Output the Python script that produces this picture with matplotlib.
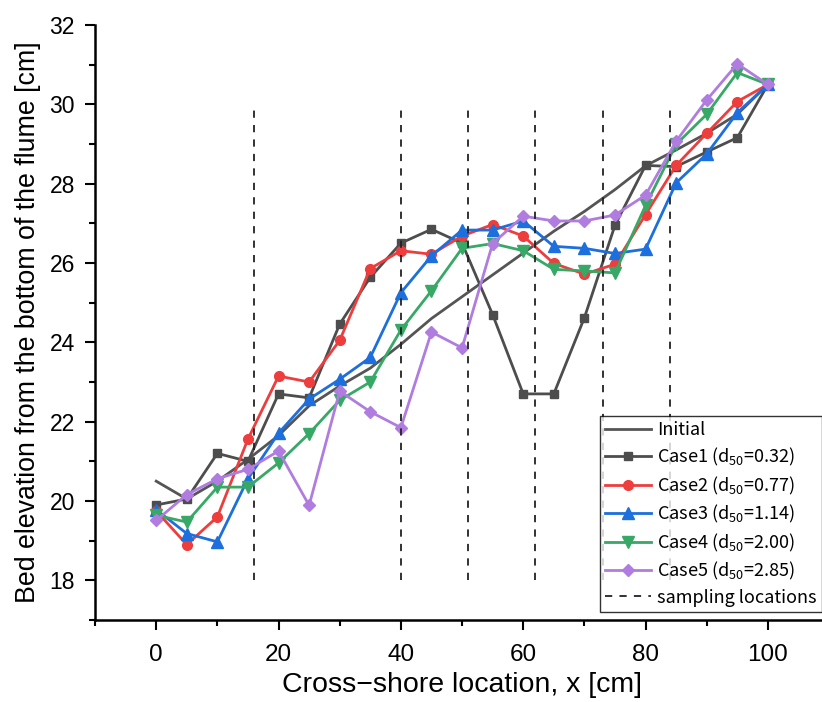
import matplotlib
matplotlib.use('Agg')
import matplotlib.pyplot as plt
from matplotlib.ticker import MultipleLocator

plt.rcParams['font.family'] = ['Noto Sans CJK JP', 'DejaVu Sans']
plt.rcParams['mathtext.fontset'] = 'custom'
plt.rcParams['mathtext.rm'] = 'Noto Sans CJK JP'
plt.rcParams['mathtext.default'] = 'regular'

# cross-shore positions [cm]
x = [0, 5, 10, 15, 20, 25, 30, 35, 40, 45, 50, 55, 60, 65, 70, 75, 80, 85, 90, 95, 100]

initial = [20.5, 20.05, 20.5, 21.05, 21.65, 22.4, 22.9, 23.35, 23.95, 24.6, 25.15, 25.7,
           26.25, 26.8, 27.3, 27.85, 28.45, 28.85, 29.27, 29.75, 30.5]
case1 = [19.9, 20.05, 21.2, 21.0, 22.7, 22.6, 24.46, 25.64, 26.5, 26.85, 26.5, 24.7,
         22.7, 22.7, 24.62, 26.95, 28.46, 28.43, 28.8, 29.16, 30.5]
case2 = [19.75, 18.9, 19.6, 21.56, 23.15, 23.0, 24.05, 25.86, 26.31, 26.22, 26.68, 26.97,
         26.68, 25.99, 25.72, 25.97, 27.22, 28.46, 29.27, 30.07, 30.5]
case3 = [19.78, 19.18, 18.97, 20.56, 21.71, 22.57, 23.07, 23.62, 25.25, 26.18, 26.83, 26.83,
         27.06, 26.42, 26.37, 26.24, 26.35, 28.02, 28.75, 29.79, 30.5]
case4 = [19.64, 19.47, 20.35, 20.35, 20.96, 21.7, 22.54, 23.0, 24.31, 25.3, 26.37, 26.49,
         26.31, 25.84, 25.8, 25.75, 27.45, 28.99, 29.75, 30.8, 30.5]
case5 = [19.51, 20.16, 20.56, 20.8, 21.26, 19.89, 22.77, 22.25, 21.85, 24.26, 23.86, 26.49,
         27.18, 27.06, 27.06, 27.21, 27.71, 29.07, 30.11, 31.02, 30.5]

sampling = [16, 40, 51, 62, 73, 84]

labels = ['Case1 (d$_{50}$=0.32)', 'Case2 (d$_{50}$=0.77)', 'Case3 (d$_{50}$=1.14)',
          'Case4 (d$_{50}$=2.00)', 'Case5 (d$_{50}$=2.85)']
colors = ['#4d4d4d', '#ee3d3d', '#1c6fdc', '#38a866', '#b07ce0']
markers = ['s', 'o', '^', 'v', 'D']
sizes = [6, 7, 8, 8, 6]

fig = plt.figure(figsize=(8.22, 7.02), dpi=100)
ax = fig.add_axes([0.1156, 0.1168, 0.893, 0.8476])

ax.plot(x, initial, color='#555555', lw=2, label='Initial')
for c, lab, col, m, ms in zip([case1, case2, case3, case4, case5], labels, colors, markers, sizes):
    ax.plot(x, c, color=col, lw=2, marker=m, ms=ms, label=lab)

for i, s in enumerate(sampling):
    ax.plot([s, s], [18, 30], color='#222222', lw=1.3, ls=(0, (4, 4)),
            label='sampling locations' if i == 0 else None)

ax.set_xlim(-10, 110)
ax.set_ylim(17, 32)
ax.xaxis.set_major_locator(MultipleLocator(20))
ax.xaxis.set_minor_locator(MultipleLocator(10))
ax.yaxis.set_major_locator(MultipleLocator(2))
ax.yaxis.set_minor_locator(MultipleLocator(1))
ax.tick_params(which='major', direction='out', length=7.5, width=1.5, pad=7)
ax.tick_params(axis='x', which='major', pad=10)
ax.tick_params(which='minor', direction='out', length=4, width=1.5)
for lab in ax.get_yticklabels():
    lab.set_family('Liberation Sans')
    lab.set_fontsize(16.5)
for lab in ax.get_xticklabels():
    lab.set_family('Liberation Sans')
    lab.set_fontsize(17.5)
ax.spines['top'].set_visible(False)
ax.spines['right'].set_visible(False)
ax.spines['left'].set_linewidth(1.8)
ax.spines['bottom'].set_linewidth(1.8)

ax.set_xlabel('Cross\u2212shore location, x [cm]', fontsize=20.5, family='Liberation Sans',
              labelpad=4)
ax.set_ylabel('Bed elevation from the bottom of the flume [cm]', fontsize=19.3,
              family='Liberation Sans', labelpad=6)

leg = ax.legend(loc='lower left', bbox_to_anchor=(0.688, 0.0134), fontsize=13,
                frameon=True, fancybox=False, edgecolor='black', borderaxespad=0,
                handlelength=2.5, borderpad=0.3, labelspacing=0.36, handletextpad=0.35)
leg.get_frame().set_linewidth(1.0)

fig.savefig('out.png', dpi=100)
